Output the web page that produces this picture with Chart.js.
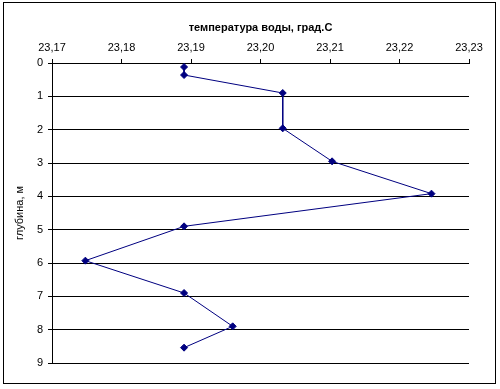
<!DOCTYPE html>
<html>
<head>
<meta charset="utf-8">
<script src="https://cdn.jsdelivr.net/npm/chart.js@4"></script>
<style>
  html, body { margin: 0; padding: 0; background: #fff; }
  #wrap { width: 500px; height: 389px; }
</style>
</head>
<body>
<div id="wrap"><canvas id="tempChart" width="500" height="389"></canvas></div>
<script>
// Water temperature vs depth
const depths = [0.12, 0.36, 0.9, 1.96, 2.95, 3.92, 4.9, 5.93, 6.9, 7.9, 8.54];
const temps = [23.189, 23.189, 23.2032, 23.2032, 23.2103, 23.2246, 23.189, 23.1748, 23.189, 23.196, 23.189];
const xTicks = [23.17, 23.18, 23.19, 23.20, 23.21, 23.22, 23.23];
const yTicks = [0, 1, 2, 3, 4, 5, 6, 7, 8, 9];

const xTitle = 'температура воды, град.С';
const yTitle = 'глубина, м';

// Frame round the whole chart
const framePlugin = {
    id: 'frame',
    beforeDraw(chart) {
        const ctx = chart.ctx;
        ctx.save();
        ctx.fillStyle = '#fff';
        ctx.fillRect(0, 0, chart.width, chart.height);
        ctx.strokeStyle = '#000';
        ctx.lineWidth = 1;
        ctx.strokeRect(3.5, 2.5, 492, 381);
        ctx.restore();
    }
};

const points = temps.map((t, i) => ({ x: t, y: depths[i] }));
const font = { family: '"Liberation Sans", Arial, sans-serif', size: 11 };

new Chart(document.getElementById('tempChart'), {
    type: 'scatter',
    data: {
        datasets: [{
            data: points,
            showLine: true,
            borderColor: '#000080',
            backgroundColor: '#000080',
            borderWidth: 1,
            pointStyle: 'rectRot',
            pointRadius: 3.5,
            pointBorderWidth: 1
        }]
    },
    options: {
        responsive: false,
        animation: false,
        layout: { padding: { left: 0, right: 31, top: 0, bottom: 26 } },
        scales: {
            x: {
                type: 'linear',
                position: 'top',
                min: 23.17,
                max: 23.23,
                afterBuildTicks: (scale) => { scale.ticks = xTicks.map(v => ({ value: v })); },
                afterFit: (scale) => { scale.height = 63; },
                ticks: {
                    color: '#000',
                    font: font,
                    padding: 4,
                    maxRotation: 0,
                    callback: (v) => Number(v).toFixed(2).replace('.', ',')
                },
                grid: {
                    drawOnChartArea: false,
                    drawTicks: true,
                    tickLength: 4,
                    color: '#000'
                },
                border: { display: true, color: '#000' },
                title: {
                    display: true,
                    text: xTitle,
                    color: '#000',
                    font: { family: font.family, size: 11, weight: 'bold' },
                    padding: { top: 21, bottom: 0 }
                }
            },
            y: {
                type: 'linear',
                reverse: true,
                min: 0,
                max: 9,
                afterBuildTicks: (scale) => { scale.ticks = yTicks.map(v => ({ value: v })); },
                afterFit: (scale) => { scale.width = 52; },
                ticks: { color: '#000', font: font, padding: 5 },
                grid: {
                    color: '#000',
                    tickLength: 4
                },
                border: { display: true, color: '#000' },
                title: {
                    display: true,
                    text: yTitle,
                    color: '#000',
                    font: font,
                    padding: { top: 13, bottom: 0 }
                }
            }
        },
        plugins: {
            legend: { display: false },
            tooltip: { enabled: false }
        }
    },
    plugins: [framePlugin]
});
</script>
</body>
</html>
